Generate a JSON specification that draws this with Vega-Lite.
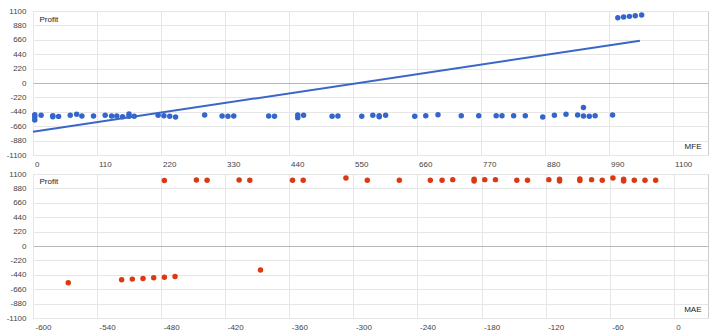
{
  "$schema": "https://vega.github.io/schema/vega-lite/v6.json",
  "padding": {"left": 5, "top": 6, "right": 10, "bottom": 3},
  "background": "white",
  "bounds": "flush",
  "spacing": 19,
  "datasets": {
    "mfe": [
      {"MFE": 3, "Profit": -484}, {"MFE": 3, "Profit": -520}, {"MFE": 3, "Profit": -565},
      {"MFE": 14, "Profit": -494}, {"MFE": 34, "Profit": -500}, {"MFE": 34, "Profit": -515},
      {"MFE": 44, "Profit": -510}, {"MFE": 64, "Profit": -494}, {"MFE": 75, "Profit": -479},
      {"MFE": 84, "Profit": -504}, {"MFE": 104, "Profit": -504}, {"MFE": 124, "Profit": -494},
      {"MFE": 135, "Profit": -504}, {"MFE": 144, "Profit": -504}, {"MFE": 154, "Profit": -514},
      {"MFE": 165, "Profit": -474}, {"MFE": 165, "Profit": -509}, {"MFE": 174, "Profit": -509},
      {"MFE": 215, "Profit": -494}, {"MFE": 225, "Profit": -499}, {"MFE": 235, "Profit": -509},
      {"MFE": 245, "Profit": -519}, {"MFE": 295, "Profit": -489}, {"MFE": 325, "Profit": -504},
      {"MFE": 335, "Profit": -509}, {"MFE": 345, "Profit": -504}, {"MFE": 405, "Profit": -504},
      {"MFE": 415, "Profit": -509}, {"MFE": 455, "Profit": -489}, {"MFE": 455, "Profit": -529},
      {"MFE": 465, "Profit": -494}, {"MFE": 514, "Profit": -509}, {"MFE": 524, "Profit": -504},
      {"MFE": 565, "Profit": -509}, {"MFE": 584, "Profit": -494}, {"MFE": 595, "Profit": -499},
      {"MFE": 595, "Profit": -514}, {"MFE": 606, "Profit": -494}, {"MFE": 656, "Profit": -509},
      {"MFE": 675, "Profit": -499}, {"MFE": 696, "Profit": -484}, {"MFE": 736, "Profit": -499},
      {"MFE": 766, "Profit": -499}, {"MFE": 796, "Profit": -499}, {"MFE": 806, "Profit": -499},
      {"MFE": 826, "Profit": -499}, {"MFE": 846, "Profit": -499}, {"MFE": 876, "Profit": -519},
      {"MFE": 896, "Profit": -494}, {"MFE": 916, "Profit": -479}, {"MFE": 936, "Profit": -489},
      {"MFE": 946, "Profit": -373}, {"MFE": 946, "Profit": -504}, {"MFE": 956, "Profit": -509},
      {"MFE": 966, "Profit": -499}, {"MFE": 996, "Profit": -489},
      {"MFE": 1005, "Profit": 998}, {"MFE": 1015, "Profit": 1008}, {"MFE": 1025, "Profit": 1018},
      {"MFE": 1035, "Profit": 1028}, {"MFE": 1046, "Profit": 1039}
    ],
    "trend": [
      {"MFE": 0, "Profit": -745},
      {"MFE": 1043, "Profit": 644}
    ],
    "mae": [
      {"MAE": -567, "Profit": -563}, {"MAE": -517, "Profit": -517}, {"MAE": -507, "Profit": -506},
      {"MAE": -497, "Profit": -496}, {"MAE": -487, "Profit": -486}, {"MAE": -477, "Profit": -476},
      {"MAE": -467, "Profit": -465}, {"MAE": -387, "Profit": -365},
      {"MAE": -477, "Profit": 999}, {"MAE": -447, "Profit": 1009}, {"MAE": -437, "Profit": 1004},
      {"MAE": -407, "Profit": 1009}, {"MAE": -397, "Profit": 1004}, {"MAE": -357, "Profit": 1004},
      {"MAE": -347, "Profit": 1004}, {"MAE": -307, "Profit": 1040}, {"MAE": -287, "Profit": 1004},
      {"MAE": -257, "Profit": 1004}, {"MAE": -228, "Profit": 1004}, {"MAE": -217, "Profit": 1004},
      {"MAE": -207, "Profit": 1014}, {"MAE": -187, "Profit": 1019}, {"MAE": -187, "Profit": 994},
      {"MAE": -177, "Profit": 1014}, {"MAE": -167, "Profit": 1014}, {"MAE": -147, "Profit": 1004},
      {"MAE": -137, "Profit": 1004}, {"MAE": -117, "Profit": 1014}, {"MAE": -107, "Profit": 1019},
      {"MAE": -107, "Profit": 994}, {"MAE": -88, "Profit": 1024}, {"MAE": -88, "Profit": 999},
      {"MAE": -77, "Profit": 1014}, {"MAE": -67, "Profit": 1004}, {"MAE": -57, "Profit": 1040},
      {"MAE": -47, "Profit": 1019}, {"MAE": -47, "Profit": 994}, {"MAE": -37, "Profit": 1004},
      {"MAE": -27, "Profit": 1004}, {"MAE": -17, "Profit": 1004}
    ]
  },
  "vconcat": [
    {
      "width": 675,
      "height": 144,
      "encoding": {
        "x": {
          "field": "MFE", "type": "quantitative",
          "scale": {"domain": [0, 1160], "nice": false, "zero": false},
          "axis": {
            "values": [0, 110, 220, 330, 440, 550, 660, 770, 880, 990, 1100],
            "labelAlign": "left", "labelOffset": 1.5, "labelPadding": 5, "labelFlush": false,
            "labelOverlap": false,
            "title": "MFE", "titleX": 668, "titleY": -8.5, "titleAlign": "right", "titleBaseline": "middle"
          }
        },
        "y": {
          "field": "Profit", "type": "quantitative",
          "scale": {"domain": [-1100, 1100], "nice": false, "zero": false},
          "axis": {
            "values": [-1100, -880, -660, -440, -220, 0, 220, 440, 660, 880, 1100],
            "labelPadding": 7,
            "labelOverlap": false,
            "gridColor": {"condition": {"test": "datum.value === 0", "value": "#b8b8b8"}, "value": "#e6e6e6"},
            "title": "Profit", "titleAngle": 0, "titleX": 6, "titleY": 8, "titleAlign": "left", "titleBaseline": "middle"
          }
        }
      },
      "layer": [
        {
          "data": {"name": "mfe"},
          "mark": {"type": "circle", "size": 30, "opacity": 1, "color": "#3366cc"}
        },
        {
          "data": {"name": "trend"},
          "mark": {"type": "line", "color": "#3b66c9", "strokeWidth": 2}
        }
      ]
    },
    {
      "width": 675,
      "height": 144,
      "data": {"name": "mae"},
      "mark": {"type": "circle", "size": 30, "opacity": 1, "color": "#dc3912"},
      "encoding": {
        "x": {
          "field": "MAE", "type": "quantitative",
          "scale": {"domain": [-600, 32], "nice": false, "zero": false},
          "axis": {
            "values": [-600, -540, -480, -420, -360, -300, -240, -180, -120, -60, 0],
            "labelAlign": "left", "labelOffset": 2, "labelPadding": 5, "labelFlush": false,
            "labelOverlap": false,
            "title": "MAE", "titleX": 668, "titleY": -9, "titleAlign": "right", "titleBaseline": "middle"
          }
        },
        "y": {
          "field": "Profit", "type": "quantitative",
          "scale": {"domain": [-1100, 1100], "nice": false, "zero": false},
          "axis": {
            "values": [-1100, -880, -660, -440, -220, 0, 220, 440, 660, 880, 1100],
            "labelPadding": 7,
            "labelOverlap": false,
            "gridColor": {"condition": {"test": "datum.value === 0", "value": "#b8b8b8"}, "value": "#e6e6e6"},
            "title": "Profit", "titleAngle": 0, "titleX": 6, "titleY": 7.5, "titleAlign": "left", "titleBaseline": "middle"
          }
        }
      }
    }
  ],
  "config": {
    "font": "Liberation Sans",
    "view": {"stroke": "#cccccc"},
    "axis": {
      "labelFontSize": 8,
      "labelColor": "#444444",
      "labelExpr": "'' + datum.value",
      "labelOverlap": false,
      "labelBound": false,
      "titleFontSize": 8,
      "titleFontWeight": "normal",
      "titleColor": "#222222",
      "ticks": false,
      "domain": false,
      "gridColor": "#e6e6e6"
    }
  }
}
